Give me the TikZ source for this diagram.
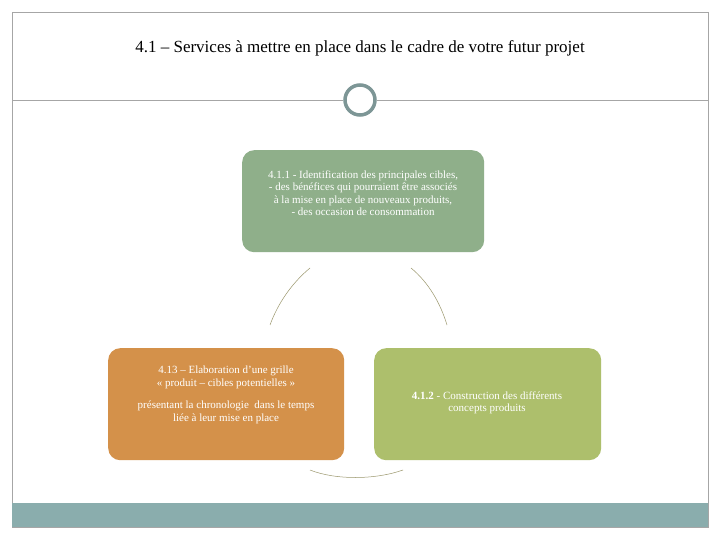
\documentclass[tikz,border=0pt]{standalone}
\usepackage{fontspec}
\setmainfont{Liberation Serif}
\begin{document}
\begin{tikzpicture}[x=1pt,y=-1pt,
 box/.style={rounded corners=12pt,text=white,align=center,font=\fontsize{11}{12}\selectfont,anchor=north west,inner sep=0pt},
 arcline/.style={draw=black!40!yellow!50!gray,line width=0.5pt}]
\useasboundingbox (0,0) rectangle (720,540);
\fill[white] (0,0) rectangle (720,540);
\draw[draw=gray!70,line width=0.6pt] (12,12) rectangle (708,527);
\fill[fill={rgb,255:red,138;green,173;blue,173}] (12,503) rectangle (708,527);
\node (title) at (360,48) {\fontsize{17}{20}\selectfont 4.1 – Services à mettre en place dans le cadre de votre futur projet};
\node[circle,draw={rgb,255:red,125;green,150;blue,150},line width=3.5pt,minimum size=30pt,inner sep=0pt] (c) at (360,100) {};
\draw[gray!70] (12,100) -- (c.west);
\draw[gray!70] (c.east) -- (708,100);
\node[box,fill={rgb,255:red,143;green,175;blue,138},minimum width=242pt,minimum height=102pt] (a) at (242,150) {};
\node[align=center,text=white,font=\fontsize{11}{12.5}\selectfont] (at) at (363,193) {4.1.1 - Identification des principales cibles,\\- des bénéfices qui pourraient être associés\\à la mise en place de nouveaux produits,\\- des occasion de consommation};
\node[box,fill={rgb,255:red,212;green,145;blue,74},minimum width=236pt,minimum height=112pt] (o) at (108,348) {};
\node[align=center,text=white,font=\fontsize{11}{12.5}\selectfont] (ot) at (226,395) {4.13 – Elaboration d’une grille\\« produit – cibles potentielles »\\[10pt]présentant la chronologie\ \ dans le temps\\liée à leur mise en place};
\node[box,fill={rgb,255:red,173;green,191;blue,108},minimum width=227pt,minimum height=112pt] (g) at (374,348) {};
\node[align=center,text=white,font=\fontsize{11}{12.5}\selectfont] (gt) at (487,403) {\textbf{4.1.2} - Construction des différents\\concepts produits};
\coordinate (l1) at (310,268); \coordinate (l2) at (270,325);
\coordinate (r1) at (411,268); \coordinate (r2) at (447,325);
\coordinate (b1) at (310,470); \coordinate (b2) at (403,470);
\draw[arcline] (l1) .. controls (292,283) and (278,303) .. (l2);
\draw[arcline] (r1) .. controls (428,282) and (440,302) .. (r2);
\draw[arcline] (b1) .. controls (335,480) and (375,480) .. (b2);
\end{tikzpicture}
\end{document}
